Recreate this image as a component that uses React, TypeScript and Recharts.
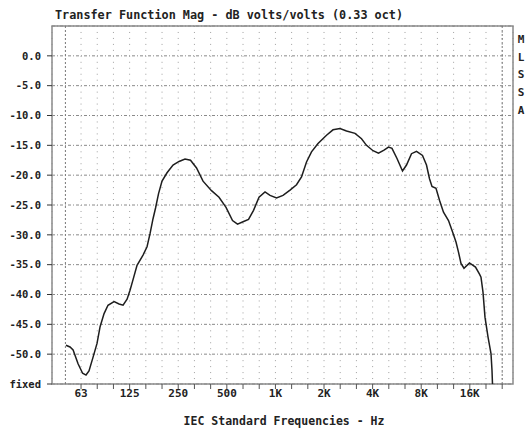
import React from 'react';
import { LineChart, Line, XAxis, YAxis, CartesianGrid, ReferenceLine, ReferenceArea } from 'recharts';

// third-octave band centres (Hz) left to right
const FREQS = [
  50.4, 53.4, 55.8, 59.9, 63.9, 67.1, 70.0, 74.2, 78.5, 82.0,
  86.8, 91.8, 100.1, 107.5, 113.8, 120.5, 125.7, 130.3, 138.9, 151.3,
  160.2, 167.2, 174.5, 180.9, 188.8, 198.4, 213.1, 232.1, 252.9, 275.4,
  297.9, 324.6, 356.1, 401.9, 447.3, 494.3, 542.3, 582.4, 629.9, 681.4,
  731.7, 791.4, 862.1, 925.9, 1015.9, 1114.4, 1231.4, 1351.1, 1450.8, 1558.1,
  1673.1, 1835.8, 2072.4, 2273.8, 2512.5, 2756.6, 3112.2, 3414.6, 3666.9, 4022.8,
  4351.0, 4705.9, 5018.0, 5274.6, 5664.7, 6126.4, 6486.4, 6966.0, 7480.5, 8149.2,
  8627.0, 9004.1, 9331.7, 9879.6, 10385, 10994, 11808, 12500, 13140, 13616,
  14111, 14727, 15930, 17353, 18372, 18769, 19312, 19870, 20741, 21648,
  21958, 22115,
];

// magnitude in dB
const LEVELS = [
  -48.5, -48.8, -49.3, -51.6, -53.2, -53.5, -52.8, -50.5, -48.2, -45.4,
  -43.2, -41.8, -41.2, -41.6, -41.8, -40.8, -39.3, -37.8, -35.1, -33.4,
  -32.0, -29.8, -27.3, -25.5, -23.1, -21.0, -19.6, -18.3, -17.7, -17.3,
  -17.5, -18.8, -21.0, -22.6, -23.7, -25.4, -27.6, -28.2, -27.8, -27.4,
  -25.9, -23.7, -22.8, -23.4, -23.8, -23.4, -22.5, -21.6, -20.3, -17.8,
  -16.1, -14.7, -13.3, -12.4, -12.2, -12.6, -13.0, -13.9, -15.0, -15.9,
  -16.3, -15.8, -15.3, -15.5, -17.2, -19.3, -18.3, -16.4, -16.0, -16.7,
  -18.3, -20.6, -21.9, -22.2, -24.2, -26.2, -27.6, -29.5, -31.2, -32.9,
  -34.8, -35.6, -34.7, -35.4, -36.6, -37.1, -39.6, -43.8, -47.1, -49.9,
  -52.7, -55.0,
];

const X_TICKS = [
  62.5, 78.75, 99.21, 125, 157.49, 198.43, 250, 314.98, 396.85, 500,
  629.96, 793.7, 1000, 1259.92, 1587.4, 2000, 2519.84, 3174.8, 4000, 5039.68,
  6349.6, 8000, 10079.4, 12699.2, 16000, 20158.7, 25398.4,
];
const X_TICK_LABELS = [
  '63', '', '', '125', '', '', '250', '', '', '500',
  '', '', '1K', '', '', '2K', '', '', '4K', '',
  '', '8K', '', '', '16K', '', '',
];

const Y_TICKS = [0, -5, -10, -15, -20, -25, -30, -35, -40, -45, -50, -55];

const F_MIN = 41.3;
const F_MAX = 29630;
const FONT = '"DejaVu Sans Mono", monospace';

const data = FREQS.map((f, i) => ({ f, db: LEVELS[i] }));

const FreqTick = (props: any) => {
  const { x, y, payload } = props;
  const i = X_TICKS.findIndex(t => Math.abs(t - payload.value) < 0.01);
  const label = i >= 0 ? X_TICK_LABELS[i] : '';
  if (!label) return null;
  return (
    <text x={x} y={y} dy="0.71em" textAnchor="middle" fontFamily={FONT} fontSize={11} fontWeight="bold" fill="#222">
      {label}
    </text>
  );
};

export default function App() {
  return (
    <div style={{ position: 'absolute', left: 0, top: 0, width: 528, height: 434, background: '#fff' }}>
      <div style={{ position: 'absolute', left: 55, top: 8, lineHeight: '14px', fontFamily: FONT, fontSize: 11.8, fontWeight: 'bold', color: '#222', whiteSpace: 'pre' }}>
        Transfer Function Mag - dB volts/volts (0.33 oct)
      </div>
      <div style={{ position: 'absolute', left: 515, top: 31, width: 12, lineHeight: '17.7px', fontFamily: FONT, fontSize: 11, fontWeight: 'bold', color: '#222', textAlign: 'center' }}>
        {['M', 'L', 'S', 'S', 'A'].map((c, i) => <div key={i}>{c}</div>)}
      </div>
      <div style={{ position: 'absolute', left: 134, top: 414, width: 300, lineHeight: '14px', fontFamily: FONT, fontSize: 11.5, fontWeight: 'bold', color: '#222', textAlign: 'center', whiteSpace: 'pre' }}>
        IEC Standard Frequencies - Hz
      </div>
      <LineChart width={528} height={434} data={data} margin={{ top: 26, right: 15, left: 0, bottom: 0 }}>
        <CartesianGrid vertical={false} stroke="#8a8a8a" strokeDasharray="3 2 1 2" />
        <CartesianGrid horizontal={false} stroke="#a0a0a0" strokeDasharray="1 4.967" />
        <ReferenceLine x={50} stroke="#777" strokeDasharray="2 2" />
        <ReferenceLine x={25398.4} stroke="#777" strokeDasharray="2 2" />
        <ReferenceArea x1={F_MIN} x2={F_MAX} y1={-55} y2={5} fill="none" stroke="#8a8a8a" strokeWidth={1.5} ifOverflow="visible" />
        <XAxis
          dataKey="f"
          type="number"
          scale="log"
          domain={[F_MIN, F_MAX]}
          allowDataOverflow
          ticks={X_TICKS}
          interval={0}
          height={50}
          axisLine={false}
          tickLine={{ stroke: '#555' }}
          tickSize={5}
          tickMargin={0}
          tick={<FreqTick />}
        />
        <YAxis
          type="number"
          domain={[-55, 5]}
          allowDataOverflow
          ticks={Y_TICKS}
          interval={0}
          width={52}
          axisLine={false}
          tickLine={{ stroke: '#333' }}
          tickSize={5}
          tickMargin={6}
          tickFormatter={(v: number) => (v === -55 ? 'fixed' : v.toFixed(1))}
          tick={{ fontFamily: FONT, fontSize: 10.5, fontWeight: 'bold', fill: '#222' }}
        />
        <Line type="linear" dataKey="db" stroke="#1e1e1e" strokeWidth={1.5} dot={false} isAnimationActive={false} />
      </LineChart>
    </div>
  );
}
